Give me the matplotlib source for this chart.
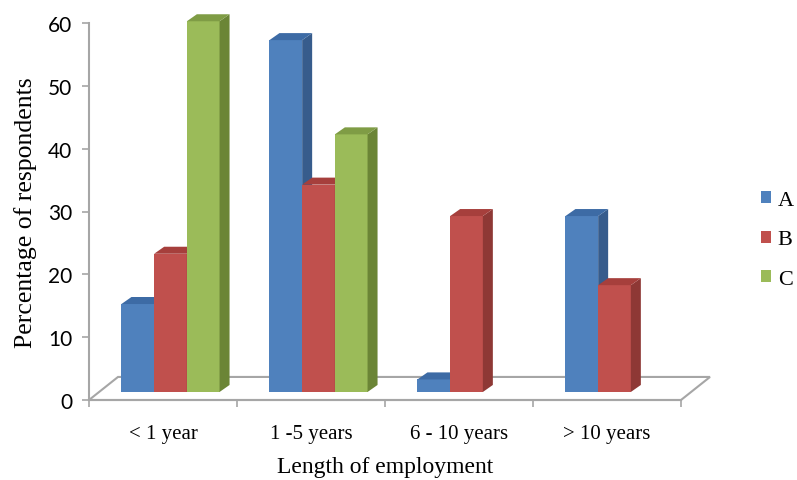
import matplotlib.pyplot as plt
from matplotlib.patches import Polygon, Patch

# data
categories = ["< 1 year", "1 -5 years", "6 - 10 years", "> 10 years"]
series = ["A", "B", "C"]
values_a = [14, 56, 2, 28]
values_b = [22, 33, 28, 17]
values_c = [59, 41, 0, 0]
y_ticks = [0, 10, 20, 30, 40, 50, 60]

front_colors = ["#4F81BD", "#C0504D", "#9BBB59"]
side_colors = ["#375C8C", "#8E3835", "#6B8536"]
top_colors = ["#3D6BA5", "#A63F3C", "#7F9C45"]
grey = "#A6A6A6"

fig = plt.figure(figsize=(7.97, 4.81), dpi=100)
# axes covers the front plane of the 3D box
ax = fig.add_axes([89 / 797, 80 / 481, 592 / 797, 377 / 481])
ax.set_xlim(0, len(categories))
ax.set_ylim(0, 60)
ax.patch.set_visible(False)

# pseudo 3D geometry (data units)
px_x, px_y = 1 / 148, 1 / 6.27
floor_dx, floor_dy = 29 * px_x, 23 * px_y
bar_shift, bar_base = 7.5 * px_x, 8 * px_y
bar_w = 32.7 * px_x
face_dx, face_dy = 10 * px_x, 7 * px_y

n = len(categories)
floor = Polygon([(0, 0), (n, 0), (n + floor_dx, floor_dy), (floor_dx, floor_dy)],
                closed=True, facecolor="white", edgecolor=grey, lw=1.5,
                clip_on=False, zorder=1)
ax.add_patch(floor)

all_values = [values_a, values_b, values_c]
for j, vals in enumerate(all_values):
    for i, v in enumerate(vals):
        if v == 0:
            continue
        xc = i + 0.5 + bar_shift + (j - 1) * bar_w
        xl, xr = xc - bar_w / 2, xc + bar_w / 2
        b, t = bar_base, bar_base + v
        ax.bar(xc, v, bar_w, bottom=b, color=front_colors[j], lw=0,
               zorder=3 + 2 * j, clip_on=False)
        side = Polygon([(xr, b), (xr + face_dx, b + face_dy),
                        (xr + face_dx, t + face_dy), (xr, t)],
                       closed=True, facecolor=side_colors[j], lw=0,
                       zorder=4 + 2 * j, clip_on=False)
        top = Polygon([(xl, t), (xr, t), (xr + face_dx, t + face_dy),
                       (xl + face_dx, t + face_dy)],
                      closed=True, facecolor=top_colors[j], lw=0,
                      zorder=4 + 2 * j, clip_on=False)
        ax.add_patch(side)
        ax.add_patch(top)

# axes styling
for s in ["top", "right"]:
    ax.spines[s].set_visible(False)
for s in ["left", "bottom"]:
    ax.spines[s].set_color(grey)
    ax.spines[s].set_linewidth(1.5)

ax.set_yticks(y_ticks)
ax.set_yticklabels([str(t) for t in y_ticks], fontfamily="Lato", fontsize=15)
ax.tick_params(axis="y", length=5, width=1.2, color=grey, pad=7)

ax.set_xticks(range(n + 1))
ax.set_xticklabels([])
ax.tick_params(axis="x", which="major", length=5, width=1.2, color=grey)
ax.set_xticks([i + 0.5 for i in range(n)], minor=True)
ax.set_xticklabels(categories, minor=True, fontfamily="Liberation Serif", fontsize=15)
ax.tick_params(axis="x", which="minor", length=0, pad=17)

ax.set_xlabel("Length of employment", fontfamily="Liberation Serif", fontsize=17, labelpad=10)
ax.set_ylabel("Percentage of respondents", fontfamily="Liberation Serif", fontsize=18.5, labelpad=8)

handles = [Patch(facecolor=c, edgecolor="none") for c in front_colors]
fig.legend(handles, series, loc="center left", bbox_to_anchor=(761 / 797, 1 - 241 / 481),
           frameon=False, prop={"family": "Liberation Serif", "size": 16},
           borderaxespad=0, borderpad=0,
           handlelength=0.45, handleheight=0.45, handletextpad=0.3, labelspacing=0.92)

plt.savefig("out.png", dpi=100)
